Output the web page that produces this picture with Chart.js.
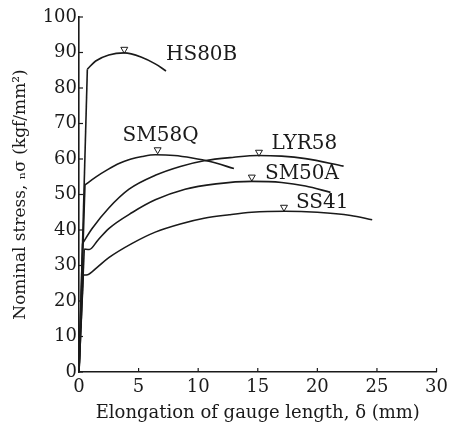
<!DOCTYPE html>
<html>
<head>
<meta charset="utf-8">
<script src="https://cdn.jsdelivr.net/npm/chart.js@4"></script>
<style>
  html, body { margin: 0; padding: 0; background: #fff; }
  #wrap { width: 453px; height: 425px; }
</style>
</head>
<body>
<div id="wrap"><canvas id="c" width="453" height="425"></canvas></div>
<script>
// ---- data (x: elongation mm, y: nominal stress kgf/mm2) ----
const seriesNames = ["HS80B", "SM58Q", "LYR58", "SM50A", "SS41"];

const hs80bX = [0, 0.7, 1.4, 2.5, 3.8, 5.3, 6.4, 7.3];
const hs80bY = [0, 85.3, 87.6, 89.3, 89.9, 88.6, 86.8, 84.8];

const sm58qX = [0, 0.5, 1.4, 2.4, 3.4, 4.3, 5.3, 6.4, 8.0, 9.5, 11.0, 13.0];
const sm58qY = [0, 52.7, 54.9, 57.0, 58.8, 59.9, 60.7, 61.2, 61.0, 60.3, 59.3, 57.3];

const lyr58X = [0, 0.3, 1.1, 2.5, 4.2, 6.4, 8.5, 10.5, 13.0, 15.0, 17.0, 19.0, 22.2];
const lyr58Y = [0, 36.2, 40.4, 46.2, 51.5, 55.4, 57.9, 59.5, 60.5, 61.0, 60.8, 60.1, 58.0];

const sm50aX = [0, 0.44, 0.86, 1.6, 2.5, 4.5, 6.4, 8.9, 11.5, 14.5, 17.0, 19.0, 21.1];
const sm50aY = [0, 34.6, 34.5, 37.2, 40.4, 45.0, 48.5, 51.5, 53.0, 53.7, 53.4, 52.4, 50.6];

const ss41X = [0, 0.36, 0.72, 1.5, 2.5, 4.5, 6.4, 8.5, 10.5, 12.6, 14.5, 17.3, 20.0, 22.8, 24.6];
const ss41Y = [0, 27.3, 27.4, 29.4, 32.2, 36.3, 39.4, 41.7, 43.3, 44.3, 45.0, 45.3, 45.0, 44.1, 42.9];

// maximum-stress markers (open triangles)
const peakX = [3.8, 6.6, 15.1, 14.5, 17.2];
const peakY = [90.9, 62.6, 61.9, 54.9, 46.4];

// curve label anchors (left edge, middle)
const labelX = [7.3, 3.65, 16.15, 15.6, 18.2];
const labelY = [89.3, 66.6, 64.2, 55.8, 47.6];

const xTicks = [0, 5, 10, 15, 20, 25, 30];
const yTicks = [0, 10, 20, 30, 40, 50, 60, 70, 80, 90, 100];

const xTitle = "Elongation of gauge length, \u03b4 (mm)";
const yTitle = "Nominal stress, \u2099\u03c3 (kgf/mm\u00b2)";

// ---- build datasets ----
const zip = (xs, ys) => xs.map((x, i) => ({ x: x, y: ys[i] }));
const curves = [
  zip(hs80bX, hs80bY), zip(sm58qX, sm58qY), zip(lyr58X, lyr58Y),
  zip(sm50aX, sm50aY), zip(ss41X, ss41Y)
];

const FONT = "'DejaVu Serif', 'Liberation Serif', serif";
const INK = "#1a1a1a";

const datasets = [];
curves.forEach((pts, i) => {
  // elastic part: straight from origin to the yield point
  datasets.push({
    label: seriesNames[i] + " elastic",
    data: pts.slice(0, 2),
    showLine: true, borderColor: INK, borderWidth: 1.6,
    pointRadius: 0, tension: 0, fill: false
  });
  // plastic part: smooth curve from the yield point on
  datasets.push({
    label: seriesNames[i],
    data: pts.slice(1),
    showLine: true, borderColor: INK, borderWidth: 1.6,
    pointRadius: 0, cubicInterpolationMode: 'monotone', fill: false
  });
});
datasets.push({
  label: "max",
  data: zip(peakX, peakY),
  showLine: false,
  pointStyle: 'triangle',
  rotation: 180,
  pointRadius: 4,
  pointBorderWidth: 1,
  pointBorderColor: INK,
  pointBackgroundColor: "#fff"
});

const decor = {
  id: 'decor',
  afterDatasetsDraw(chart) {
    const ctx = chart.ctx;
    const xs = chart.scales.x, ys = chart.scales.y;
    const area = chart.chartArea;
    ctx.save();
    // inward tick marks
    ctx.strokeStyle = INK;
    ctx.lineWidth = 1.2;
    xTicks.forEach(v => {
      const px = xs.getPixelForValue(v);
      ctx.beginPath(); ctx.moveTo(px, area.bottom); ctx.lineTo(px, area.bottom - 4); ctx.stroke();
    });
    yTicks.forEach(v => {
      const py = ys.getPixelForValue(v);
      ctx.beginPath(); ctx.moveTo(area.left, py); ctx.lineTo(area.left + 4, py); ctx.stroke();
    });
    // curve labels
    ctx.fillStyle = INK;
    ctx.font = "20px " + FONT;
    ctx.textAlign = 'left';
    ctx.textBaseline = 'middle';
    seriesNames.forEach((n, i) => {
      ctx.fillText(n, xs.getPixelForValue(labelX[i]), ys.getPixelForValue(labelY[i]));
    });
    ctx.restore();
  }
};

new Chart(document.getElementById('c'), {
  type: 'scatter',
  data: { datasets: datasets },
  options: {
    responsive: false,
    animation: false,
    layout: { padding: { top: 17, right: 13, left: 0, bottom: 0 } },
    plugins: { legend: { display: false }, tooltip: { enabled: false } },
    scales: {
      x: {
        type: 'linear', min: 0, max: 30,
        afterBuildTicks: s => { s.ticks = xTicks.map(v => ({ value: v })); },
        afterFit: s => { s.height = 53; },
        grid: { display: true, drawOnChartArea: false, drawTicks: false },
        border: { display: true, color: INK, width: 1.6 },
        ticks: { color: INK, font: { family: FONT, size: 18 }, padding: 5, maxRotation: 0 },
        title: { display: true, text: xTitle, color: INK, font: { family: FONT, size: 18 }, padding: { top: 0, bottom: 1 } }
      },
      y: {
        type: 'linear', min: 0, max: 100,
        afterBuildTicks: s => { s.ticks = yTicks.map(v => ({ value: v })); },
        afterFit: s => { s.width = 79; },
        grid: { display: true, drawOnChartArea: false, drawTicks: false },
        border: { display: true, color: INK, width: 1.6 },
        ticks: { color: INK, font: { family: FONT, size: 18 }, padding: 2 },
        title: { display: true, text: yTitle, color: INK, font: { family: FONT, size: 17 }, padding: { top: 10, bottom: 0 } }
      }
    }
  },
  plugins: [decor]
});
</script>
</body>
</html>
